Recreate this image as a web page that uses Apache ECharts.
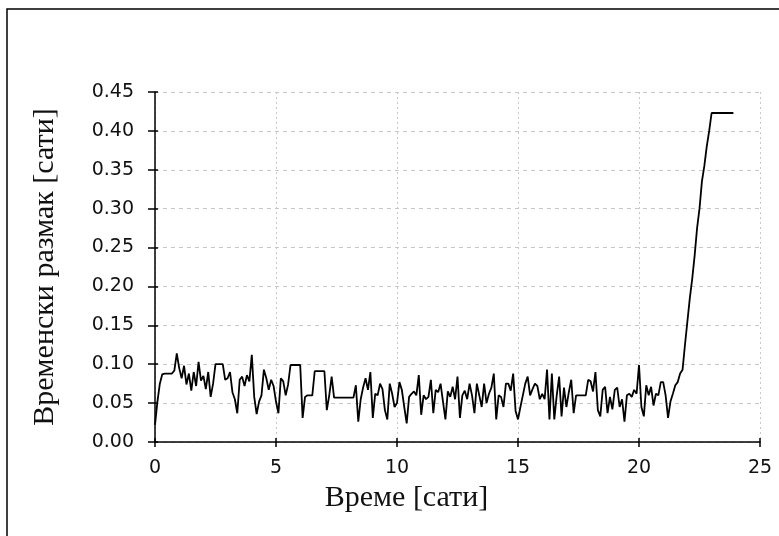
<!DOCTYPE html>
<html>
<head>
<meta charset="utf-8">
<script src="https://cdn.jsdelivr.net/npm/echarts@6/dist/echarts.min.js"></script>
<style>
  html, body { margin: 0; padding: 0; background: #fff; }
  #chart { width: 779px; height: 536px; }
</style>
</head>
<body>
<div id="chart"></div>
<script>
// Time gap between successive records, sampled every 0.1 h starting at 0 h.
const SAMPLE_STEP = 0.1;
const gapHours = [
  // 0 h
  0.022, 0.052, 0.075, 0.087, 0.088, 0.088, 0.088, 0.088, 0.092, 0.114,
  // 1 h
  0.095, 0.082, 0.098, 0.074, 0.088, 0.066, 0.090, 0.072, 0.103, 0.079,
  // 2 h
  0.085, 0.068, 0.090, 0.058, 0.075, 0.100, 0.100, 0.100, 0.100, 0.080,
  // 3 h
  0.082, 0.090, 0.064, 0.055, 0.037, 0.080, 0.084, 0.072, 0.086, 0.078,
  // 4 h
  0.112, 0.058, 0.036, 0.052, 0.060, 0.093, 0.082, 0.067, 0.080, 0.072,
  // 5 h
  0.052, 0.037, 0.082, 0.078, 0.060, 0.074, 0.099, 0.099, 0.099, 0.099,
  // 6 h
  0.099, 0.031, 0.058, 0.060, 0.060, 0.060, 0.091, 0.091, 0.091, 0.091,
  // 7 h
  0.091, 0.041, 0.060, 0.084, 0.057, 0.057, 0.057, 0.057, 0.057, 0.057,
  // 8 h
  0.057, 0.057, 0.057, 0.073, 0.026, 0.055, 0.070, 0.082, 0.067, 0.090,
  // 9 h
  0.031, 0.062, 0.060, 0.075, 0.068, 0.041, 0.029, 0.075, 0.062, 0.045,
  // 10 h
  0.050, 0.077, 0.067, 0.045, 0.024, 0.058, 0.062, 0.065, 0.060, 0.086,
  // 11 h
  0.035, 0.060, 0.055, 0.058, 0.080, 0.037, 0.067, 0.064, 0.075, 0.052,
  // 12 h
  0.029, 0.065, 0.058, 0.071, 0.055, 0.084, 0.031, 0.060, 0.066, 0.055,
  // 13 h
  0.075, 0.060, 0.037, 0.075, 0.060, 0.045, 0.075, 0.050, 0.062, 0.070,
  // 14 h
  0.088, 0.029, 0.060, 0.058, 0.045, 0.075, 0.075, 0.066, 0.088, 0.040,
  // 15 h
  0.029, 0.045, 0.060, 0.075, 0.084, 0.060, 0.068, 0.075, 0.072, 0.055,
  // 16 h
  0.062, 0.055, 0.093, 0.029, 0.088, 0.029, 0.060, 0.084, 0.033, 0.070,
  // 17 h
  0.045, 0.064, 0.080, 0.037, 0.060, 0.060, 0.060, 0.060, 0.060, 0.080,
  // 18 h
  0.078, 0.065, 0.090, 0.041, 0.033, 0.067, 0.071, 0.037, 0.058, 0.042,
  // 19 h
  0.067, 0.070, 0.045, 0.055, 0.026, 0.060, 0.062, 0.058, 0.067, 0.062,
  // 20 h
  0.099, 0.045, 0.033, 0.073, 0.060, 0.071, 0.047, 0.062, 0.060, 0.077,
  // 21 h
  0.077, 0.060, 0.031, 0.052, 0.062, 0.073, 0.077, 0.088, 0.093, 0.125,
  // 22 h
  0.155, 0.185, 0.210, 0.240, 0.275, 0.300, 0.335, 0.355, 0.380, 0.400,
  // 23 h
  0.423, 0.423, 0.423, 0.423, 0.423, 0.423, 0.423, 0.423, 0.423, 0.423
];
const xTicks = [0, 5, 10, 15, 20, 25];
const yTicks = [0.00, 0.05, 0.10, 0.15, 0.20, 0.25, 0.30, 0.35, 0.40, 0.45];

const xTitle = 'Време [сати]';
const yTitle = 'Временски размак [сати]';

const points = gapHours.map((v, i) => [+(i * SAMPLE_STEP).toFixed(1), v]);

const labelFont = { fontFamily: 'DejaVu Sans', fontSize: 19, color: '#111' };
const titleFont = { fontFamily: 'Liberation Serif', fontSize: 30, color: '#111' };

const chart = echarts.init(document.getElementById('chart'), null, { renderer: 'canvas' });

const xBase = {
  type: 'value',
  min: xTicks[0],
  max: xTicks[xTicks.length - 1],
  interval: xTicks[1] - xTicks[0]
};
const yBase = {
  type: 'value',
  min: yTicks[0],
  max: yTicks[yTicks.length - 1],
  interval: +(yTicks[1] - yTicks[0]).toFixed(2)
};

chart.setOption({
  animation: false,
  backgroundColor: '#fff',
  grid: { left: 155, right: 19, top: 92, bottom: 94, containLabel: false },
  graphic: [{
    type: 'rect',
    shape: { x: 7, y: 9, width: 900, height: 700 },
    style: { fill: 'none', stroke: '#000', lineWidth: 1.5 },
    silent: true
  }],
  xAxis: [
    Object.assign({}, xBase, {
      position: 'bottom',
      name: xTitle,
      nameLocation: 'middle',
      nameGap: 27,
      nameTextStyle: Object.assign({ padding: [0, 102, 0, 0] }, titleFont),
      axisLine: { show: true, lineStyle: { color: '#000', width: 1.5 } },
      axisTick: { show: true, length: 5, lineStyle: { color: '#000', width: 1.5 } },
      axisLabel: Object.assign({ margin: 17 }, labelFont),
      splitLine: { show: true, lineStyle: { color: '#c8c8c8', type: [2, 3], width: 1 } }
    }),
    Object.assign({}, xBase, {
      position: 'bottom',
      axisLine: { show: false },
      axisTick: { show: true, inside: true, length: 4, lineStyle: { color: '#000', width: 1.5 } },
      axisLabel: { show: false },
      splitLine: { show: false }
    })
  ],
  yAxis: [
    Object.assign({}, yBase, {
      position: 'left',
      name: yTitle,
      nameLocation: 'middle',
      nameGap: 95,
      nameRotate: 90,
      nameTextStyle: titleFont,
      axisLine: { show: true, lineStyle: { color: '#000', width: 1.5 } },
      axisTick: { show: true, length: 7, lineStyle: { color: '#000', width: 1.5 } },
      axisLabel: Object.assign({ margin: 21, formatter: v => v.toFixed(2) }, labelFont),
      splitLine: { show: true, lineStyle: { color: '#c8c8c8', type: [4, 4], width: 1 } }
    }),
    Object.assign({}, yBase, {
      position: 'left',
      axisLine: { show: false },
      axisTick: { show: true, inside: true, length: 3, lineStyle: { color: '#000', width: 1.5 } },
      axisLabel: { show: false },
      splitLine: { show: false }
    })
  ],
  series: [{
    type: 'line',
    data: points,
    xAxisIndex: 0,
    yAxisIndex: 0,
    showSymbol: false,
    lineStyle: { color: '#000', width: 1.8 },
    z: 3
  }]
});
</script>
</body>
</html>
